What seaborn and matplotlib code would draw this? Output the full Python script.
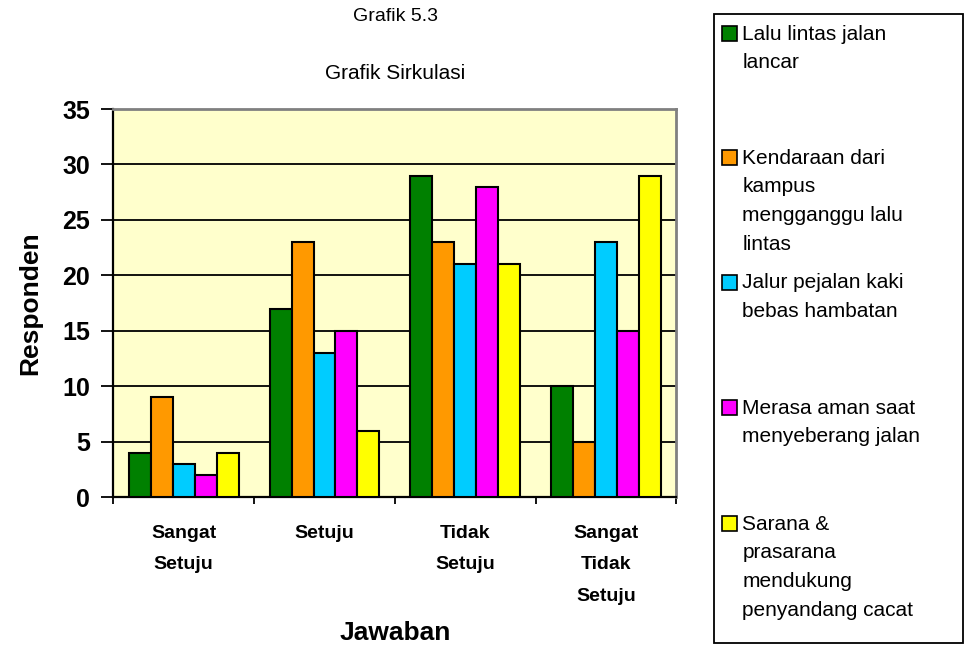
import pandas as pd
import matplotlib.pyplot as plt
import seaborn as sns
from matplotlib.patches import Rectangle

# data
categories = ["Sangat\nSetuju", "Setuju", "Tidak\nSetuju", "Sangat\nTidak\nSetuju"]
series_names = [
    "Lalu lintas jalan\nlancar",
    "Kendaraan dari\nkampus\nmengganggu lalu\nlintas",
    "Jalur pejalan kaki\nbebas hambatan",
    "Merasa aman saat\nmenyeberang jalan",
    "Sarana &\nprasarana\nmendukung\npenyandang cacat",
]
lalu_lintas = [4, 17, 29, 10]
kendaraan = [9, 23, 23, 5]
jalur_pejalan = [3, 13, 21, 23]
merasa_aman = [2, 15, 28, 15]
sarana = [4, 6, 21, 29]
colors = ["#008000", "#FF9900", "#00CCFF", "#FF00FF", "#FFFF00"]

rows = []
for name, vals in zip(series_names, [lalu_lintas, kendaraan, jalur_pejalan, merasa_aman, sarana]):
    for cat, v in zip(categories, vals):
        rows.append({"Jawaban": cat, "Responden": v, "seri": name})
df = pd.DataFrame(rows)

sns.set_style("white")
plt.rcParams["font.family"] = ["Liberation Sans", "DejaVu Sans"]
for k in ["text.color", "axes.labelcolor", "xtick.color", "ytick.color"]:
    plt.rcParams[k] = "black"

fig = plt.figure(figsize=(9.69, 6.49), dpi=100)
ax = fig.add_axes([0.117, 0.234, 0.581, 0.598])
ax.set_facecolor("#FFFFCC")

sns.barplot(data=df, x="Jawaban", y="Responden", hue="seri", palette=colors, saturation=1,
            width=0.78, edgecolor="black", linewidth=1.5, legend=False, ax=ax, zorder=3)

ax.set_ylim(0, 35)
ax.set_xlim(-0.5, 3.5)
ax.set_yticks(range(0, 36, 5))
ax.yaxis.grid(True, color="black", linewidth=1.3, zorder=0)
ax.set_axisbelow(True)
ax.tick_params(axis="y", labelsize=18, length=9, width=1.3, direction="out", left=True, pad=8)
for lab in ax.get_yticklabels():
    lab.set_fontweight("bold")

ax.set_xticks(range(4))
ax.set_xticklabels(categories, fontsize=14, fontweight="bold", linespacing=2.1, va="top")
ax.tick_params(axis="x", length=0, pad=20)
ax.set_xticks([-0.5, 0.5, 1.5, 2.5, 3.5], minor=True)
ax.tick_params(axis="x", which="minor", length=5, width=1.3, direction="out", bottom=True)

for s in ["left", "bottom"]:
    ax.spines[s].set_color("black")
    ax.spines[s].set_linewidth(1.6)
for s in ["top", "right"]:
    ax.spines[s].set_color("#808080")
    ax.spines[s].set_linewidth(2)

ax.set_xlabel("Jawaban", fontsize=19, fontweight="bold", va="top")
ax.xaxis.set_label_coords(0.5, -0.32)
ax.set_ylabel("Responden", fontsize=19, fontweight="bold", va="center")
ax.yaxis.set_label_coords(-0.147, 0.5)

fig.text(0.408, 0.975, "Grafik 5.3", ha="center", va="center", fontsize=14)
fig.text(0.408, 0.886, "Grafik Sirkulasi", ha="center", va="center", fontsize=15)

# legend box drawn to match the original's uneven spacing
fig.patches.append(Rectangle((0.737, 0.01), 0.257, 0.968, transform=fig.transFigure,
                             facecolor="white", edgecolor="black", linewidth=1.3))
entry_centers = [33, 157, 282, 407, 523]  # pixel rows of each entry's first line
for name, col, cy in zip(series_names, colors, entry_centers):
    fig.patches.append(Rectangle((0.745, 1 - (cy + 7.5) / 649), 0.0155, 0.023,
                                 transform=fig.transFigure,
                                 facecolor=col, edgecolor="black", linewidth=1.2))
    fig.text(0.766, 1 - (cy - 8.5) / 649, name, ha="left", va="top", fontsize=15, linespacing=1.66)

fig.savefig("out.png", dpi=100)
